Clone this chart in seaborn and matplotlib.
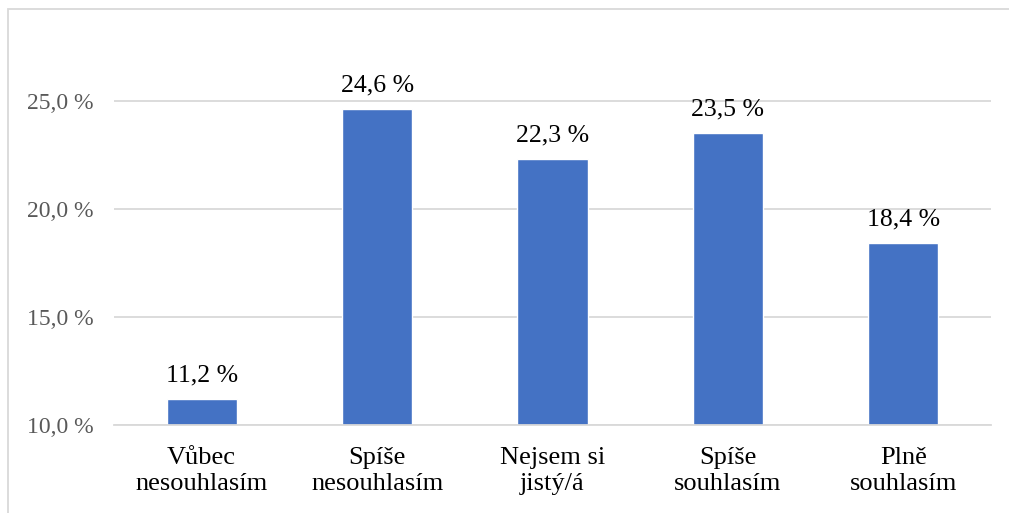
import matplotlib
matplotlib.use("Agg")
import matplotlib.pyplot as plt
import seaborn as sns
import pandas as pd
from matplotlib.patches import Rectangle

categories = ["Vůbec\nnesouhlasím", "Spíše\nnesouhlasím", "Nejsem si\njistý/á", "Spíše\nsouhlasím", "Plně\nsouhlasím"]
values = [11.2, 24.6, 22.3, 23.5, 18.4]
yticks = [10, 15, 20, 25]

df = pd.DataFrame({"cat": categories, "val": values})

sns.set_style("white")
plt.rcParams['font.family'] = ['Liberation Serif', 'DejaVu Serif']

fig = plt.figure(figsize=(10.09, 5.13), dpi=100)
ax = fig.add_axes([114/1009, 1-425/513, (991-114)/1009, (425-38)/513])

sns.barplot(data=df, x="cat", y="val", color="#4472C4", width=0.4, ax=ax, saturation=1)

ax.set_ylim(10, 27.9)
ax.set_xlim(-0.5, 4.5)
ax.set_yticks(yticks)
ax.set_yticklabels([f"{t:.1f}".replace(".", ",") + " %" for t in yticks], color="#595959", fontsize=17)
ax.tick_params(axis='y', length=0, pad=15)
ax.tick_params(axis='x', length=0, pad=16, labelsize=19, labelcolor="black")
for lab in ax.get_xticklabels():
    lab.set_linespacing(1.25)
ax.set_xlabel("")
ax.set_ylabel("")
ax.yaxis.grid(True, color="#D9D9D9", linewidth=1.3)
ax.set_axisbelow(True)
for s in ["top", "right", "left"]:
    ax.spines[s].set_visible(False)
ax.spines["bottom"].set_color("#D9D9D9")
ax.spines["bottom"].set_linewidth(1.3)

for i, v in enumerate(values):
    ax.text(i, v + 0.6, f"{v:.1f}".replace(".", ",") + " %", ha="center", va="bottom", fontsize=18.5, color="black")

fig.patches.append(Rectangle((8/1009, -0.05), 1.1, 1.05 - 8.5/513, transform=fig.transFigure,
                             fill=False, edgecolor="#D9D9D9", linewidth=1.3))

fig.savefig("out.png", dpi=100)
